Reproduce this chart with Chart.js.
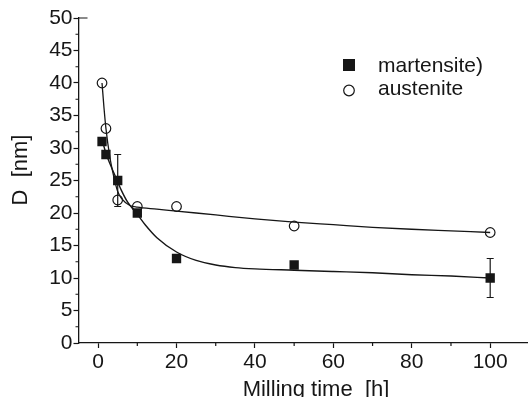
<!DOCTYPE html>
<html>
<head>
<meta charset="utf-8">
<script src="https://cdn.jsdelivr.net/npm/chart.js@4.4.1/dist/chart.umd.min.js"></script>
<style>
  html, body { margin: 0; padding: 0; background: #fff; overflow: hidden; }
  #wrap { width: 528px; height: 397px; overflow: hidden; }
  canvas { display: block; }
</style>
</head>
<body>
<div id="wrap"><canvas id="chart" width="536" height="400"></canvas></div>
<script>
// measured crystallite size vs milling time
const millTime = [1, 2, 5, 10, 20, 50, 100];
const martensiteD = [31, 29, 25, 20, 13, 12, 10];
const martensiteErr = [0, 0, 4, 0, 0, 0, 3];
const austeniteD = [40, 33, 22, 21, 21, 18, 17];

// fitted curves through the points
const martFitTime = [1, 2, 3, 4, 5, 6, 7.5, 10, 12, 15, 20, 25, 30, 35, 40, 50, 60, 70, 80, 90, 100];
const martFitD = [31.3, 29.2, 27.6, 26.2, 24.8, 23.4, 21.7, 19.8, 18.2, 16.2, 14.0, 12.7, 12.0, 11.6, 11.4, 11.2, 11.0, 10.8, 10.5, 10.3, 10.0];
const ausFitTime = [1, 1.5, 2, 3, 4, 5, 6, 8, 10, 15, 20, 30, 40, 50, 60, 70, 80, 90, 100];
const ausFitD = [40, 36.2, 33, 28.6, 25.6, 23.3, 22.2, 21.2, 20.9, 20.6, 20.3, 19.7, 19.1, 18.6, 18.2, 17.8, 17.5, 17.25, 17.0];

// axis ticks
const xMajor = [0, 20, 40, 60, 80, 100];
const xMinor = [10, 30, 50, 70, 90, 110];
const yMajor = [0, 5, 10, 15, 20, 25, 30, 35, 40, 45, 50];
const yMinor = [2.5, 7.5, 12.5, 17.5, 22.5, 27.5, 32.5, 37.5, 42.5, 47.5];

const ink = '#161616';
const family = '"Liberation Sans", Arial, sans-serif';

function pts(xs, ys) {
  return xs.map((v, i) => ({ x: v, y: ys[i] }));
}

// minor ticks, error bars, legend and axis titles
const extras = {
  id: 'extras',
  afterDraw(chart) {
    const { ctx, chartArea, scales: { x, y } } = chart;
    ctx.save();
    ctx.strokeStyle = ink;
    ctx.lineWidth = 1.2;

    ctx.beginPath();
    xMinor.forEach(v => {
      const px = x.getPixelForValue(v);
      ctx.moveTo(px, chartArea.bottom);
      ctx.lineTo(px, chartArea.bottom + 3);
    });
    yMinor.forEach(v => {
      const py = y.getPixelForValue(v);
      ctx.moveTo(chartArea.left, py);
      ctx.lineTo(chartArea.left - 3, py);
    });
    // stub of the top frame
    ctx.moveTo(chartArea.left, chartArea.top);
    ctx.lineTo(chartArea.left + 9, chartArea.top);
    ctx.stroke();

    // error bars of martensite
    ctx.beginPath();
    millTime.forEach((t, i) => {
      const e = martensiteErr[i];
      if (!e) return;
      const px = x.getPixelForValue(t);
      const top = y.getPixelForValue(martensiteD[i] + e);
      const bot = y.getPixelForValue(martensiteD[i] - e);
      ctx.moveTo(px, top); ctx.lineTo(px, bot);
      ctx.moveTo(px - 3.5, top); ctx.lineTo(px + 3.5, top);
      ctx.moveTo(px - 3.5, bot); ctx.lineTo(px + 3.5, bot);
    });
    ctx.stroke();

    // legend
    ctx.fillStyle = ink;
    ctx.fillRect(343, 59, 12, 12);
    ctx.beginPath();
    ctx.arc(349, 90.5, 5.3, 0, Math.PI * 2);
    ctx.stroke();
    ctx.font = '21px ' + family;
    ctx.textAlign = 'left';
    ctx.textBaseline = 'middle';
    ctx.fillText('martensite)', 378, 66);
    ctx.fillText('austenite', 378, 89.5);

    // axis titles
    ctx.font = '22px ' + family;
    ctx.textAlign = 'center';
    ctx.textBaseline = 'alphabetic';
    ctx.fillText('Milling time  [h]', 316, 396);
    ctx.translate(27, 170);
    ctx.rotate(-Math.PI / 2);
    ctx.fillText('D  [nm]', 0, 0);
    ctx.restore();
  }
};

const ctx = document.getElementById('chart').getContext('2d');
new Chart(ctx, {
  type: 'scatter',
  data: {
    datasets: [
      {
        label: 'martensite)',
        data: pts(millTime, martensiteD),
        pointStyle: 'rect',
        pointRadius: 6.6,
        backgroundColor: ink,
        borderColor: ink,
        borderWidth: 0,
        order: 0
      },
      {
        label: 'austenite',
        data: pts(millTime, austeniteD),
        pointStyle: 'circle',
        pointRadius: 4.8,
        backgroundColor: 'rgba(0,0,0,0)',
        borderColor: ink,
        borderWidth: 1.2,
        order: 0
      },
      {
        label: 'martensite fit',
        type: 'line',
        data: pts(martFitTime, martFitD),
        pointRadius: 0,
        borderColor: ink,
        borderWidth: 1.4,
        cubicInterpolationMode: 'monotone',
        fill: false,
        order: 1
      },
      {
        label: 'austenite fit',
        type: 'line',
        data: pts(ausFitTime, ausFitD),
        pointRadius: 0,
        borderColor: ink,
        borderWidth: 1.3,
        cubicInterpolationMode: 'monotone',
        fill: false,
        order: 1
      }
    ]
  },
  options: {
    responsive: false,
    animation: false,
    devicePixelRatio: 1,
    layout: { padding: { top: 18, right: 4, left: 0, bottom: 0 } },
    plugins: { legend: { display: false }, tooltip: { enabled: false } },
    scales: {
      x: {
        type: 'linear',
        min: -5,
        max: 110,
        afterBuildTicks: s => { s.ticks = xMajor.map(v => ({ value: v })); },
        afterFit: s => { s.height = 57; },
        grid: { drawOnChartArea: false, tickLength: 5, tickColor: ink, tickWidth: 1.2 },
        border: { color: ink, width: 1.3 },
        ticks: { font: { family: family, size: 21 }, color: ink, padding: 2, maxRotation: 0 }
      },
      y: {
        type: 'linear',
        min: 0,
        max: 50,
        afterBuildTicks: s => { s.ticks = yMajor.map(v => ({ value: v })); },
        afterFit: s => { s.width = 78.5; },
        grid: { drawOnChartArea: false, tickLength: 5, tickColor: ink, tickWidth: 1.2 },
        border: { color: ink, width: 1.3 },
        ticks: { font: { family: family, size: 21 }, color: ink, padding: 1 }
      }
    }
  },
  plugins: [extras]
});
</script>
</body>
</html>
